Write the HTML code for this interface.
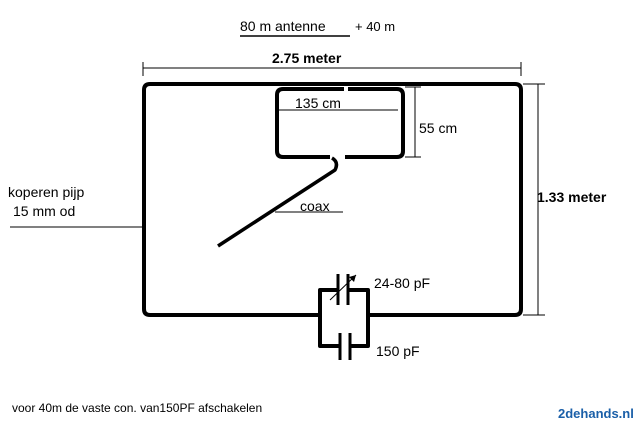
<!DOCTYPE html>
<html><head><style>body{margin:0;background:#fff}svg{display:block}</style></head><body>
<svg width="634" height="426" viewBox="0 0 634 426" xmlns="http://www.w3.org/2000/svg" font-family="Liberation Sans, sans-serif">
<g fill="none" stroke="#000" stroke-width="4" stroke-linejoin="round">
<path d="M320 315 H150 Q144 315 144 309 V90 Q144 84 150 84 H515 Q521 84 521 90 V309 Q521 315 515 315 H368"/>
<path d="M344 89 H283 Q277 89 277 95 V151 Q277 157 283 157 H330"/>
<path d="M348 89 H397 Q403 89 403 95 V151 Q403 157 397 157 H345"/>
<path d="M332 158 Q339 162 335 170 L218 246" stroke-width="3.5"/>
<path d="M320 315 V290 H338 M348 290 H368 V315 M368 315 V346 H350 M340 346 H320 V315"/>
<path d="M338 274 V305 M348 274 V305 M340 333 V360 M350 333 V360" stroke-width="3"/>
</g>
<g stroke="#000" stroke-width="1" fill="none">
<path d="M143 62 V76 M521 62 V76 M143 68 H521"/>
<path d="M278 110 H398"/>
<path d="M405 87 H421 M405 157 H421 M415 87 V157"/>
<path d="M523 84 H545 M523 315 H545 M538 84 V315"/>
<path d="M10 227 H143"/>
<path d="M275 212 H343"/>
<path d="M330 300 L356 275"/>
<path d="M240 36 H350" stroke-width="1.5"/>
</g>
<path d="M356 275 l-7 2 l5 5z" fill="#000"/>
<g font-size="14" fill="#000">
<text x="240" y="31">80 m antenne</text>
<text x="355" y="31" font-size="13">+ 40 m</text>
<text x="272" y="63" font-weight="bold">2.75 meter</text>
<text x="295" y="108">135 cm</text>
<text x="419" y="133">55 cm</text>
<text x="537" y="202" font-weight="bold">1.33 meter</text>
<text x="8" y="197">koperen pijp</text>
<text x="13" y="216">15 mm od</text>
<text x="300" y="211">coax</text>
<text x="374" y="288">24-80 pF</text>
<text x="376" y="356">150 pF</text>
<text x="12" y="412" font-size="12">voor 40m de vaste con. van150PF afschakelen</text>
<text x="558" y="418" font-size="13" font-weight="bold" fill="#1a5fa8">2dehands.nl</text>
</g>
</svg>
</body></html>
